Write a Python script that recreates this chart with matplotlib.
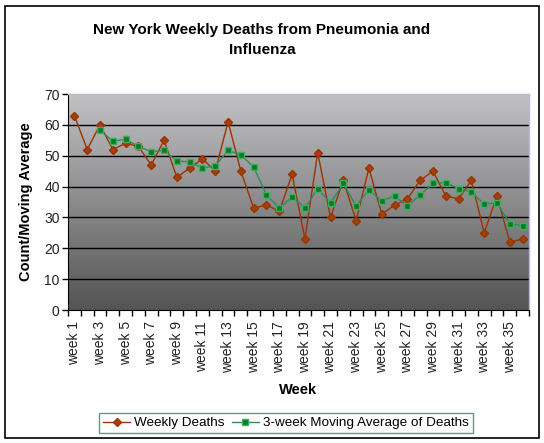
import matplotlib
matplotlib.use("Agg")
import matplotlib.pyplot as plt
import numpy as np
from matplotlib.patches import Rectangle

plt.rcParams['font.family'] = ['Liberation Sans', 'DejaVu Sans']

weeks = [f"week {i}" for i in range(1, 37)]
weekly_deaths = [63, 52, 60, 52, 54, 53, 47, 55, 43, 46, 49, 45, 61, 45, 33, 34, 32, 44,
                 23, 51, 30, 42, 29, 46, 31, 34, 36, 42, 45, 37, 36, 42, 25, 37, 22, 23]
moving_avg = [None, None, 58.3, 54.7, 55.3, 53.0, 51.3, 51.7, 48.3, 48.0, 46.0, 46.7,
              51.7, 50.3, 46.3, 37.3, 33.0, 36.7, 33.0, 39.3, 34.7, 41.0, 33.7, 39.0,
              35.3, 37.0, 33.7, 37.3, 41.0, 41.3, 39.3, 38.3, 34.3, 34.7, 28.0, 27.3]
y_ticks = [0, 10, 20, 30, 40, 50, 60, 70]

W, H = 544, 443
fig = plt.figure(figsize=(W / 100, H / 100), dpi=100)
fig.patch.set_facecolor('white')

# outer border
fig.patches.append(Rectangle((5 / W, 5 / H), (539 - 5) / W, (437 - 5) / H,
                             transform=fig.transFigure, fill=False,
                             edgecolor='black', linewidth=1.2))

left, right, top, bottom = 68, 529, 94, 310
ax = fig.add_axes([left / W, 1 - bottom / H, (right - left) / W, (bottom - top) / H])

x = np.arange(len(weeks))

# gradient background (light at top, dark at bottom)
grad = np.linspace(0, 1, 256).reshape(-1, 1)
top_c = np.array([0.76, 0.76, 0.77])
bot_c = np.array([0.33, 0.33, 0.33])
img = top_c[None, None, :] * (1 - grad[:, :, None]) + bot_c[None, None, :] * grad[:, :, None]
ax.imshow(img, extent=[-0.5, len(weeks) - 0.5, 0, 70], origin='upper', aspect='auto',
          zorder=0, interpolation='bilinear')
ax.set_xlim(-0.5, len(weeks) - 0.5)
ax.set_ylim(0, 70)

for yv in y_ticks[1:-1]:
    ax.axhline(yv, color='black', linewidth=1.0, zorder=1)

ma_x = [xi for xi, v in zip(x, moving_avg) if v is not None]
ma_y = [v for v in moving_avg if v is not None]

l1, = ax.plot(x, weekly_deaths, color='#993300', linewidth=1.0, marker='D',
              markersize=4.5, markerfacecolor='#a0400e', markeredgecolor='#993300',
              zorder=3, label='Weekly Deaths')
l2, = ax.plot(ma_x, ma_y, color='#2e8b57', linewidth=1.0, marker='s',
              markersize=4.5, markerfacecolor='#0b7a26', markeredgecolor='#3cb060',
              zorder=4, label='3-week Moving Average of Deaths')

for s in ['top', 'right']:
    ax.spines[s].set_color('#b4bccb')
    ax.spines[s].set_linewidth(1.0)
ax.spines['left'].set_color('black')
ax.spines['bottom'].set_color('black')

ax.set_yticks(y_ticks)
ax.set_yticklabels([str(v) for v in y_ticks], fontsize=10, color='#222222')
ax.tick_params(axis='y', direction='out', length=4, width=1, pad=2)

# category ticks between categories
ax.set_xticks(np.arange(-0.5, len(weeks), 1.0))
ax.set_xticklabels([])
ax.tick_params(axis='x', which='major', direction='out', length=4, width=1)
ax.set_xticks(x[::2], minor=True)
ax.set_xticklabels(weeks[::2], minor=True, rotation=90, fontsize=10, color='#222222')
ax.tick_params(axis='x', which='minor', length=0, pad=8)

ax.set_xlabel('Week', fontsize=10.5, fontweight='bold', labelpad=7)
ax.set_ylabel('Count/Moving Average', fontsize=10.5, fontweight='bold', labelpad=8)

fig.text(262 / W, 1 - 40 / H,
         'New York Weekly Deaths from Pneumonia and\nInfluenza',
         ha='center', va='center', fontsize=11, fontweight='bold',
         linespacing=1.55)

leg = fig.legend(handles=[l1, l2], loc='center', ncol=2,
                 bbox_to_anchor=((99 + 473) / 2 / W, 1 - 423 / H),
                 fontsize=9.7, frameon=True, fancybox=False, handlelength=2.0,
                 columnspacing=0.5, handletextpad=0.3, borderpad=0.3,
                 borderaxespad=0)
leg.get_frame().set_edgecolor('#4a7a60')
leg.get_frame().set_linewidth(1.0)

fig.savefig('out.png', dpi=100)
